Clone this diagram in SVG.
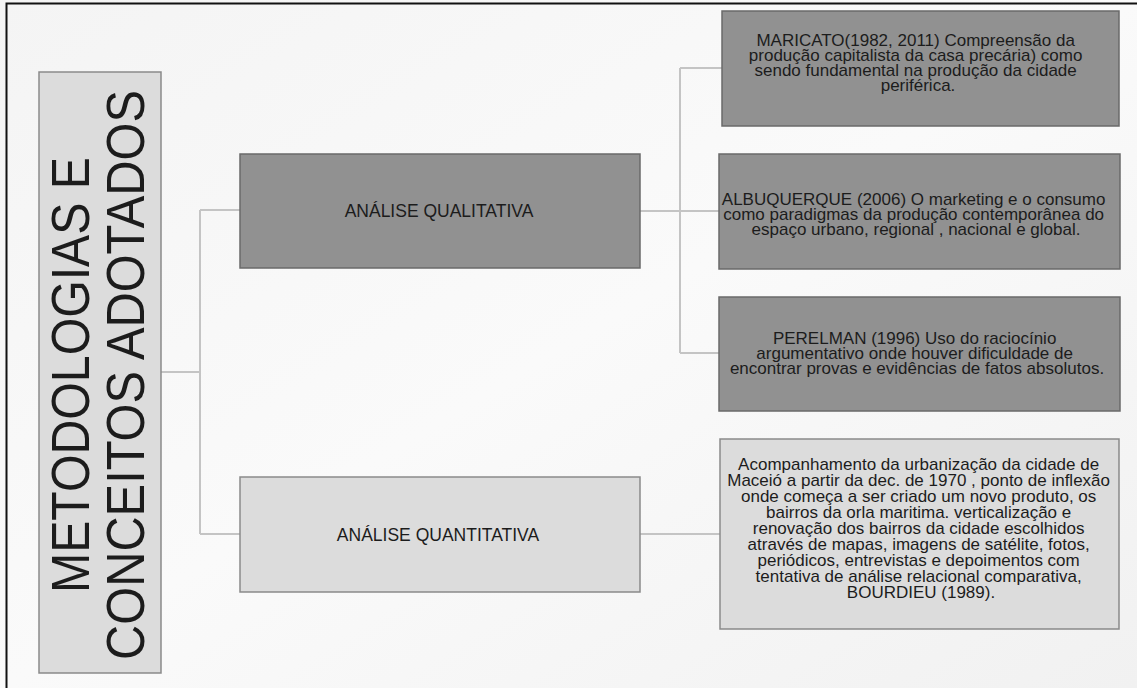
<svg xmlns="http://www.w3.org/2000/svg" width="1137" height="688" viewBox="0 0 1137 688">
<defs>
<linearGradient id="bg" x1="0" y1="0" x2="1" y2="1">
<stop offset="0" stop-color="#f4f4f4"/>
<stop offset="0.5" stop-color="#fafafa"/>
<stop offset="1" stop-color="#f1f1f1"/>
</linearGradient>
<style>
.t{font-family:"Liberation Sans",Arial,sans-serif;fill:#1c1c1c;text-anchor:middle}
.s{font-size:17.5px}
.b{font-size:17px}
.dark{fill:#919191;stroke:#6a6a6a;stroke-width:1.5}
.light{fill:#dcdcdc;stroke:#8a8a8a;stroke-width:1.5}
.c{fill:none;stroke:#c4c4c4;stroke-width:2}
</style>
</defs>
<rect x="0" y="0" width="1137" height="688" fill="url(#bg)"/>
<path d="M6.5,688 V3.5 H1137" fill="none" stroke="#111" stroke-width="2"/>

<g id="connectors">
<path class="c" d="M161,372 H200 M200,210 V534 M200,210 H240 M200,534 H240"/>
<path class="c" d="M640,211 H680 M680,68 V353 M680,68 H722 M680,211 H719 M680,353 H719"/>
<path class="c" d="M640,534 H720"/>
</g>

<g id="root">
<rect class="light" x="39" y="72" width="122" height="601"/>
<text class="t" font-size="54" transform="translate(89,375) rotate(-90)" textLength="436" lengthAdjust="spacingAndGlyphs">METODOLOGIAS E</text>
<text class="t" font-size="54" transform="translate(144,375) rotate(-90)" textLength="570" lengthAdjust="spacingAndGlyphs">CONCEITOS ADOTADOS</text>
</g>

<g id="qualitativa">
<rect class="dark" x="240" y="154" width="400" height="114"/>
<text class="t s" x="439" y="217">ANÁLISE  QUALITATIVA</text>
</g>

<g id="quantitativa">
<rect class="light" x="240" y="477" width="400" height="115"/>
<text class="t s" x="438" y="541">ANÁLISE QUANTITATIVA</text>
</g>

<g id="maricato">
<rect class="dark" x="722" y="11" width="397" height="115"/>
<text class="t b">
<tspan x="918" y="46">MARICATO(1982, 2011) Compreensão da</tspan>
<tspan x="918" y="61">produção capitalista da casa precária) como</tspan>
<tspan x="918" y="76">sendo fundamental  na produção da cidade</tspan>
<tspan x="918" y="91">periférica.</tspan>
</text>
</g>

<g id="albuquerque">
<rect class="dark" x="719" y="154" width="401" height="115"/>
<text class="t b">
<tspan x="916" y="205">ALBUQUERQUE (2006) O marketing e o consumo</tspan>
<tspan x="916" y="220">como paradigmas da produção contemporânea do</tspan>
<tspan x="916" y="235">espaço urbano, regional , nacional e global.</tspan>
</text>
</g>

<g id="perelman">
<rect class="dark" x="719" y="297" width="401" height="114"/>
<text class="t b">
<tspan x="917" y="344">PERELMAN (1996) Uso do raciocínio</tspan>
<tspan x="917" y="359">argumentativo onde houver  dificuldade de</tspan>
<tspan x="917" y="374">encontrar provas e evidências de fatos absolutos.</tspan>
</text>
</g>

<g id="acompanhamento">
<rect class="light" x="720" y="439" width="399" height="190"/>
<text class="t b">
<tspan x="921" y="470">Acompanhamento da urbanização da cidade de</tspan>
<tspan x="921" y="486">Maceió a partir da dec. de 1970 , ponto de inflexão</tspan>
<tspan x="921" y="502">onde começa a ser criado um novo produto, os</tspan>
<tspan x="921" y="518">bairros da orla maritima. verticalização e</tspan>
<tspan x="921" y="534">renovação dos bairros da cidade escolhidos</tspan>
<tspan x="921" y="550">através de mapas, imagens de satélite, fotos,</tspan>
<tspan x="921" y="566">periódicos, entrevistas e depoimentos  com</tspan>
<tspan x="921" y="582">tentativa de análise relacional comparativa,</tspan>
<tspan x="921" y="598">BOURDIEU (1989).</tspan>
</text>
</g>
</svg>
